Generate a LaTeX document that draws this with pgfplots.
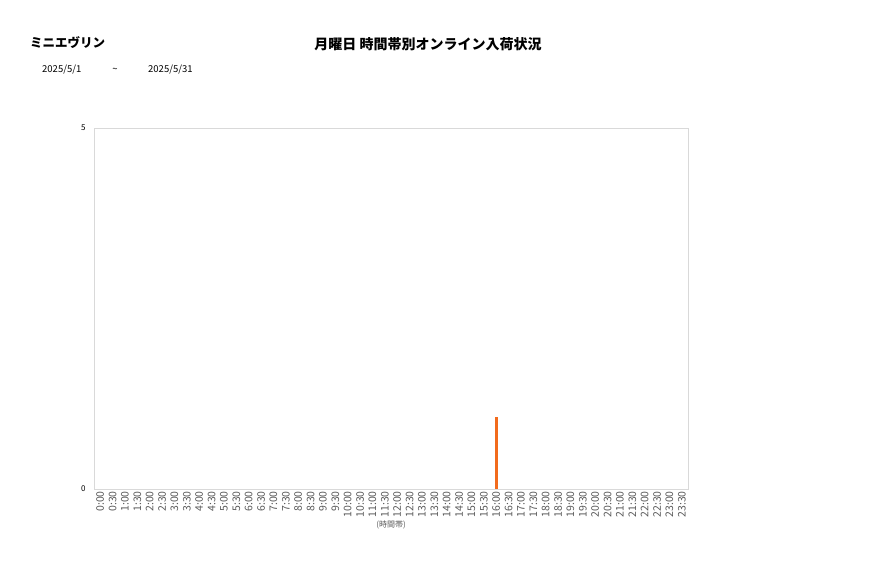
\documentclass[border=0pt]{standalone}
\usepackage{pgfplots}
\pgfplotsset{compat=1.18}
\usetikzlibrary{calc}
\usepackage{fontspec}
\setmainfont{Noto Sans CJK JP}
\definecolor{barorange}{HTML}{F26B1D}
\definecolor{framegray}{HTML}{D9D9D9}
\definecolor{ticktext}{HTML}{595959}

\begin{document}
\begin{tikzpicture}
  \begin{axis}[
      name=ax,
      scale only axis,
      width=594pt, height=361pt,
      xmin=-0.5, xmax=47.5,
      ymin=0, ymax=5,
      ytick={0,5},
      xtick={0,...,47},
      xticklabels={0:00,0:30,1:00,1:30,2:00,2:30,3:00,3:30,4:00,4:30,5:00,5:30,
        6:00,6:30,7:00,7:30,8:00,8:30,9:00,9:30,10:00,10:30,11:00,11:30,
        12:00,12:30,13:00,13:30,14:00,14:30,15:00,15:30,16:00,16:30,17:00,17:30,
        18:00,18:30,19:00,19:30,20:00,20:30,21:00,21:30,22:00,22:30,23:00,23:30},
      x tick label style={rotate=90, anchor=east, inner sep=2pt,
        font=\fontsize{10.5}{11}\selectfont, text=ticktext},
      y tick label style={font=\fontsize{8}{9}\selectfont, text=black, xshift=-5pt},
      /pgf/number format/assume math mode=true,
      major tick length=0pt,
      axis line style={framegray},
      xlabel={(時間帯)},
      xlabel style={font=\fontsize{8}{9}\selectfont, text=ticktext, yshift=2pt},
      ybar, bar width=3pt,
      bar shift=0pt,
    ]
    \addplot[draw=none, fill=barorange] coordinates {(32,1)};
  \end{axis}
  % page frame and headings, placed relative to the plot box
  \coordinate (o) at (ax.south west);
  \path ($(o)+(-94pt,-89pt)$) rectangle ($(o)+(783pt,489pt)$);
  \node[anchor=west, inner sep=0pt, font=\fontsize{12.5}{13}\selectfont\bfseries] at ($(o)+(-64pt,446pt)$) {ミニエヴリン};
  \node[inner sep=0pt, font=\fontsize{14}{14}\selectfont\bfseries] at ($(o)+(334pt,445pt)$) {月曜日 時間帯別オンライン入荷状況};
  \node[anchor=west, inner sep=0pt, font=\fontsize{9.5}{10}\selectfont] at ($(o)+(-52pt,419pt)$) {2025/5/1};
  \node[inner sep=0pt, font=\fontsize{9.5}{10}\selectfont] at ($(o)+(21pt,419pt)$) {\textasciitilde};
  \node[anchor=west, inner sep=0pt, font=\fontsize{9.5}{10}\selectfont] at ($(o)+(54pt,419pt)$) {2025/5/31};
\end{tikzpicture}
\end{document}
